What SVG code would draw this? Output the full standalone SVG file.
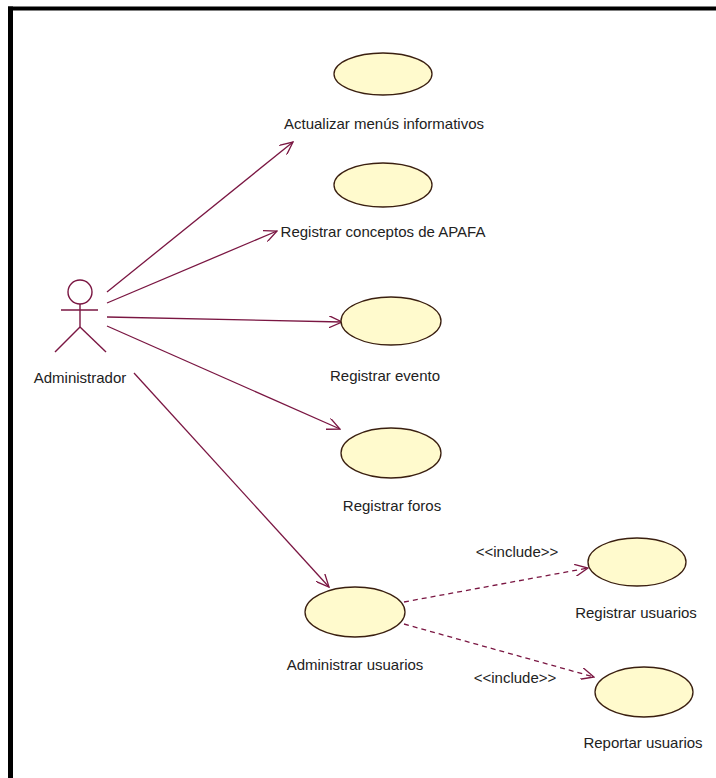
<svg xmlns="http://www.w3.org/2000/svg" width="716" height="778" viewBox="0 0 716 778">
<defs>
<style>
.uc{fill:#FFFACD;stroke:#3a1f10;stroke-width:1.3}
.lbl{font-family:"Liberation Sans",Arial,sans-serif;font-size:15px;fill:#222;text-anchor:middle}
.assoc{stroke:#7a1642;stroke-width:1.3;fill:none}
.dash{stroke:#7a1642;stroke-width:1.3;fill:none;stroke-dasharray:5,4}
.actor{stroke:#7a1642;stroke-width:1.4;fill:none}
</style>
<marker id="open" viewBox="0 0 14 12" refX="13" refY="6" markerWidth="14" markerHeight="12" markerUnits="userSpaceOnUse" orient="auto">
<path d="M0,0 L13,6 L0,12" fill="none" stroke="#7a1642" stroke-width="1.3"/>
</marker>
</defs>
<rect width="716" height="778" fill="#ffffff"/>
<g id="frame">
<line x1="8" y1="8.5" x2="716" y2="8.5" stroke="#000" stroke-width="4"/>
<line x1="10.5" y1="6.5" x2="10.5" y2="778" stroke="#000" stroke-width="5"/>
</g>
<g id="connectors">
<line class="assoc" x1="107" y1="292" x2="293" y2="142" marker-end="url(#open)"/>
<line class="assoc" x1="107" y1="303" x2="277" y2="231" marker-end="url(#open)"/>
<line class="assoc" x1="107" y1="317" x2="342" y2="322" marker-end="url(#open)"/>
<line class="assoc" x1="107" y1="326" x2="340" y2="429" marker-end="url(#open)"/>
<line class="assoc" x1="134" y1="373" x2="329" y2="587" marker-end="url(#open)"/>
<line class="dash" x1="404" y1="602" x2="588" y2="568" marker-end="url(#open)"/>
<line class="dash" x1="404" y1="624" x2="594" y2="677" marker-end="url(#open)"/>
<text class="lbl" x="517" y="557">&lt;&lt;include&gt;&gt;</text>
<text class="lbl" x="515" y="683">&lt;&lt;include&gt;&gt;</text>
</g>
<g id="actor-administrador">
<circle class="actor" cx="80" cy="292" r="12"/>
<line class="actor" x1="80" y1="304" x2="80" y2="327"/>
<line class="actor" x1="61" y1="310" x2="98" y2="310"/>
<line class="actor" x1="80" y1="327" x2="55" y2="352"/>
<line class="actor" x1="80" y1="327" x2="106" y2="352"/>
<text class="lbl" x="80" y="383">Administrador</text>
</g>
<g id="uc-actualizar">
<ellipse class="uc" cx="383" cy="74" rx="49" ry="21"/>
<text class="lbl" x="384" y="129">Actualizar menús informativos</text>
</g>
<g id="uc-conceptos">
<ellipse class="uc" cx="383" cy="185" rx="49" ry="22"/>
<text class="lbl" x="383" y="237">Registrar conceptos de APAFA</text>
</g>
<g id="uc-evento">
<ellipse class="uc" cx="391" cy="321" rx="50" ry="24"/>
<text class="lbl" x="385" y="381">Registrar evento</text>
</g>
<g id="uc-foros">
<ellipse class="uc" cx="391" cy="453" rx="50" ry="25"/>
<text class="lbl" x="392" y="511">Registrar foros</text>
</g>
<g id="uc-administrar">
<ellipse class="uc" cx="355" cy="612" rx="50" ry="25"/>
<text class="lbl" x="355" y="670">Administrar usuarios</text>
</g>
<g id="uc-registrar-usuarios">
<ellipse class="uc" cx="637" cy="562" rx="49" ry="24"/>
<text class="lbl" x="636" y="618">Registrar usuarios</text>
</g>
<g id="uc-reportar">
<ellipse class="uc" cx="644" cy="692" rx="49" ry="25"/>
<text class="lbl" x="643" y="748">Reportar usuarios</text>
</g>
</svg>
